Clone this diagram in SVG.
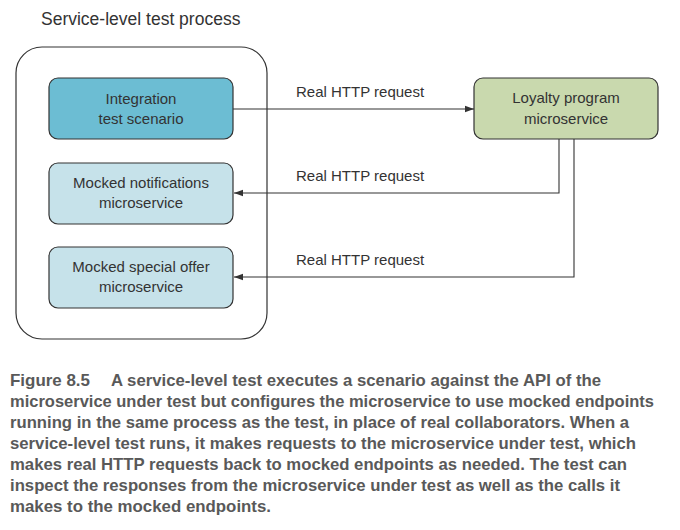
<svg xmlns="http://www.w3.org/2000/svg" width="680" height="530" viewBox="0 0 680 530">
<style>
.node{stroke:#333;stroke-width:1.2}
.t{font-family:"Liberation Sans",Arial,sans-serif;font-size:15px;fill:#333;text-anchor:middle}
.lbl{font-family:"Liberation Sans",Arial,sans-serif;font-size:15px;fill:#333}
.conn{fill:none;stroke:#333;stroke-width:1.1}
.cap{font-family:"Liberation Sans",Arial,sans-serif;font-size:17px;font-weight:bold;fill:#595959}
</style>
<defs>
<marker id="ah" markerWidth="10" markerHeight="8" refX="9" refY="4" orient="auto" markerUnits="userSpaceOnUse">
<path d="M0,0.8 L9,4 L0,7.2 Z" fill="#333"/>
</marker>
</defs>
<rect width="680" height="530" fill="#fff"/>
<text x="41" y="25" font-family="Liberation Sans,Arial,sans-serif" font-size="17.5" fill="#333">Service-level test process</text>
<g id="container">
<rect x="16" y="47" width="251" height="292" rx="26" fill="none" stroke="#333" stroke-width="1.2"/>
</g>
<g id="integration">
<rect class="node" x="49" y="78" width="184" height="61" rx="9" fill="#6cbdd3"/>
<text class="t" x="141" y="104">Integration</text>
<text class="t" x="141" y="124">test scenario</text>
</g>
<g id="mocked-notifications">
<rect class="node" x="49" y="163" width="184" height="61" rx="9" fill="#c6e2ea"/>
<text class="t" x="141" y="188">Mocked notifications</text>
<text class="t" x="141" y="208">microservice</text>
</g>
<g id="mocked-special-offer">
<rect class="node" x="49" y="247" width="184" height="61" rx="9" fill="#c6e2ea"/>
<text class="t" x="141" y="272">Mocked special offer</text>
<text class="t" x="141" y="292">microservice</text>
</g>
<g id="loyalty">
<rect class="node" x="474" y="78" width="184" height="61" rx="9" fill="#c9d9ae"/>
<text class="t" x="566" y="103">Loyalty program</text>
<text class="t" x="566" y="124">microservice</text>
</g>
<g id="connectors">
<path class="conn" d="M233,109 H474" marker-end="url(#ah)"/>
<path class="conn" d="M559,139 V193 H234" marker-end="url(#ah)"/>
<path class="conn" d="M574,139 V277 H234" marker-end="url(#ah)"/>
<text class="lbl" x="296" y="97">Real HTTP request</text>
<text class="lbl" x="296" y="181">Real HTTP request</text>
<text class="lbl" x="296" y="265">Real HTTP request</text>
</g>
<g id="caption">
<text class="cap" x="10" y="386" textLength="80" lengthAdjust="spacingAndGlyphs">Figure 8.5</text>
<text class="cap" x="111" y="386" textLength="490" lengthAdjust="spacingAndGlyphs">A service-level test executes a scenario against the API of the</text>
<text class="cap" x="10" y="407" textLength="644" lengthAdjust="spacingAndGlyphs">microservice under test but configures the microservice to use mocked endpoints</text>
<text class="cap" x="10" y="428" textLength="619" lengthAdjust="spacingAndGlyphs">running in the same process as the test, in place of real collaborators. When a</text>
<text class="cap" x="10" y="449" textLength="626" lengthAdjust="spacingAndGlyphs">service-level test runs, it makes requests to the microservice under test, which</text>
<text class="cap" x="10" y="470" textLength="617" lengthAdjust="spacingAndGlyphs">makes real HTTP requests back to mocked endpoints as needed. The test can</text>
<text class="cap" x="10" y="491" textLength="610" lengthAdjust="spacingAndGlyphs">inspect the responses from the microservice under test as well as the calls it</text>
<text class="cap" x="10" y="512" textLength="261" lengthAdjust="spacingAndGlyphs">makes to the mocked endpoints.</text>
</g>
</svg>
